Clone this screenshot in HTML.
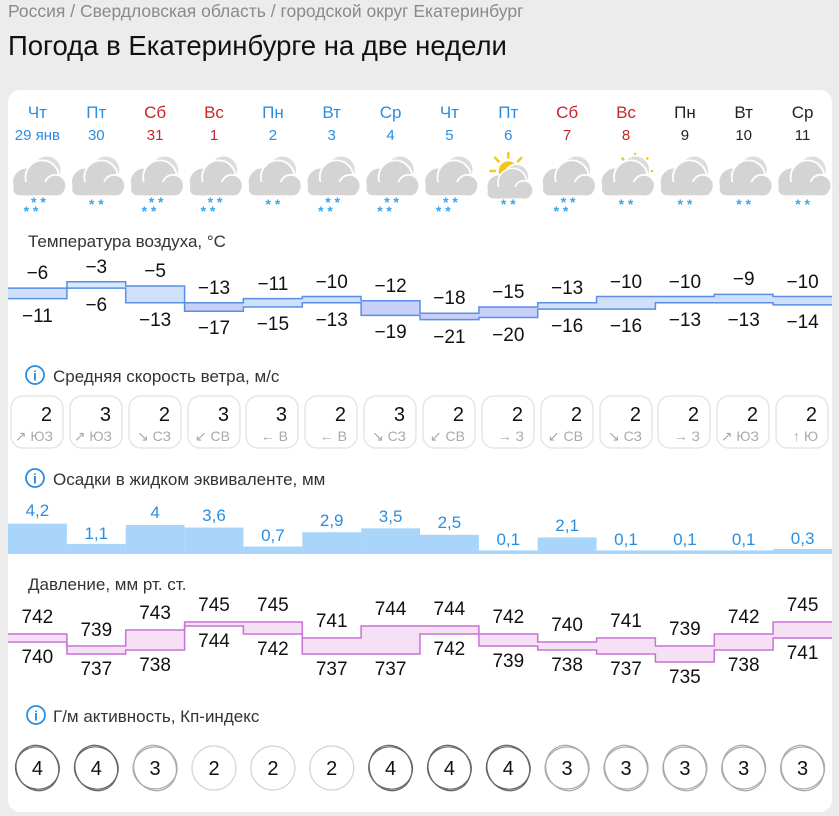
<!DOCTYPE html>
<html><head><meta charset="utf-8">
<style>
html,body{margin:0;padding:0;background:#ececec;}
body{width:839px;height:816px;overflow:hidden;position:relative;font-family:"Liberation Sans","DejaVu Sans",sans-serif;}
svg{position:absolute;left:0;top:0;}
</style></head><body>
<svg width="839" height="816" viewBox="0 0 839 816" font-family="Liberation Sans, DejaVu Sans, sans-serif">
<defs>
<symbol id="cl" viewBox="-30 -30 60 60" overflow="visible">
  <circle cx="8" cy="-10" r="12" fill="#dcdcdc" stroke="#fff" stroke-width="1.5"/>
  <circle cx="-9" cy="0" r="12" fill="#d4d4d4" stroke="#fff" stroke-width="1.5"/>
  <circle cx="4" cy="-4" r="14" fill="#d4d4d4" stroke="#fff" stroke-width="1.5"/>
  <circle cx="15" cy="3" r="9" fill="#d4d4d4" stroke="#fff" stroke-width="1.5"/>
  <rect x="-20" y="0" width="42" height="11" rx="5" fill="#d4d4d4"/>
</symbol>
<symbol id="sun" viewBox="-20 -20 40 40" overflow="visible">
  <g stroke="#f5c518" stroke-width="2" stroke-linecap="round">
    <line x1="0" y1="-15" x2="0" y2="-11"/><line x1="-11" y1="-11" x2="-8" y2="-8"/><line x1="11" y1="-11" x2="8" y2="-8"/>
    <line x1="-15" y1="0" x2="-11" y2="0"/><line x1="15" y1="0" x2="11" y2="0"/>
  </g>
  <circle cx="0" cy="0" r="8" fill="#f5c518"/>
</symbol>
</defs>
<text x="8" y="17" font-size="17.5" fill="#8a8a8a">Россия / Свердловская область / городской округ Екатеринбург</text>
<text x="8" y="55" font-size="27.5" fill="#111">Погода в Екатеринбурге на две недели</text>
<rect x="8" y="90" width="824" height="722" rx="12" fill="#fff"/>

<g font-size="17" text-anchor="middle">
<text x="37.4" y="118" fill="#2a8ee0">Чт</text><text x="96.3" y="118" fill="#2a8ee0">Пт</text><text x="155.1" y="118" fill="#c4262b">Сб</text><text x="214" y="118" fill="#c4262b">Вс</text><text x="272.9" y="118" fill="#2a8ee0">Пн</text><text x="331.7" y="118" fill="#2a8ee0">Вт</text><text x="390.6" y="118" fill="#2a8ee0">Ср</text><text x="449.4" y="118" fill="#2a8ee0">Чт</text><text x="508.3" y="118" fill="#2a8ee0">Пт</text><text x="567.1" y="118" fill="#c4262b">Сб</text><text x="626" y="118" fill="#c4262b">Вс</text><text x="684.9" y="118" fill="#222">Пн</text><text x="743.7" y="118" fill="#222">Вт</text><text x="802.6" y="118" fill="#222">Ср</text>
</g>
<g font-size="15" text-anchor="middle">
<text x="37.4" y="140" fill="#2a8ee0">29 янв</text><text x="96.3" y="140" fill="#2a8ee0">30</text><text x="155.1" y="140" fill="#c4262b">31</text><text x="214" y="140" fill="#c4262b">1</text><text x="272.9" y="140" fill="#2a8ee0">2</text><text x="331.7" y="140" fill="#2a8ee0">3</text><text x="390.6" y="140" fill="#2a8ee0">4</text><text x="449.4" y="140" fill="#2a8ee0">5</text><text x="508.3" y="140" fill="#2a8ee0">6</text><text x="567.1" y="140" fill="#c4262b">7</text><text x="626" y="140" fill="#c4262b">8</text><text x="684.9" y="140" fill="#222">9</text><text x="743.7" y="140" fill="#222">10</text><text x="802.6" y="140" fill="#222">11</text>
</g>

<!-- icons -->
<use href="#cl" x="1.4" y="146" width="72" height="72"/>
<use href="#cl" x="60.3" y="146" width="72" height="72"/>
<use href="#cl" x="119.1" y="146" width="72" height="72"/>
<use href="#cl" x="178" y="146" width="72" height="72"/>
<use href="#cl" x="236.9" y="146" width="72" height="72"/>
<use href="#cl" x="295.7" y="146" width="72" height="72"/>
<use href="#cl" x="354.6" y="146" width="72" height="72"/>
<use href="#cl" x="413.4" y="146" width="72" height="72"/>
<use href="#sun" x="484.3" y="147" width="48" height="48"/>
<use href="#cl" x="477.3" y="156" width="62" height="62"/>
<use href="#cl" x="531.1" y="146" width="72" height="72"/>
<use href="#sun" x="612" y="148" width="46" height="46"/>
<use href="#cl" x="590" y="146" width="72" height="72"/>
<use href="#cl" x="648.9" y="146" width="72" height="72"/>
<use href="#cl" x="707.7" y="146" width="72" height="72"/>
<use href="#cl" x="766.6" y="146" width="72" height="72"/>
<g font-size="14" fill="#3aa6ee" text-anchor="middle" font-weight="bold">
<text x="38.4" y="207">* *</text><text x="31" y="216">* *</text>
<text x="96.3" y="209">* *</text>
<text x="156.1" y="207">* *</text><text x="149" y="216">* *</text>
<text x="215" y="207">* *</text><text x="208" y="216">* *</text>
<text x="272.9" y="209">* *</text>
<text x="332.7" y="207">* *</text><text x="325.5" y="216">* *</text>
<text x="391.6" y="207">* *</text><text x="384.5" y="216">* *</text>
<text x="450.4" y="207">* *</text><text x="443.3" y="216">* *</text>
<text x="508.3" y="209">* *</text>
<text x="568.1" y="207">* *</text><text x="561" y="216">* *</text>
<text x="626" y="209">* *</text>
<text x="684.9" y="209">* *</text>
<text x="743.7" y="209">* *</text>
<text x="802.6" y="209">* *</text>
</g>

<!-- temperature -->
<text x="28" y="247" font-size="17" fill="#333">Температура воздуха, °C</text>
<g fill="#cfe0fb">
<rect x="8" y="288.1" width="58.9" height="10.5"/><rect x="66.9" y="281.8" width="58.8" height="6.3" fill="#d6ebfd"/><rect x="125.7" y="286" width="58.9" height="16.8"/><rect x="184.6" y="302.8" width="58.8" height="8.4" fill="#c8cff8"/><rect x="243.4" y="298.6" width="58.9" height="8.4"/><rect x="302.3" y="296.5" width="58.8" height="6.3"/><rect x="361.1" y="300.7" width="58.9" height="14.7" fill="#c8cff8"/><rect x="420" y="313.3" width="58.9" height="6.3" fill="#c8cff8"/><rect x="478.9" y="307" width="58.8" height="10.5" fill="#c8cff8"/><rect x="537.7" y="302.8" width="58.9" height="6.3"/><rect x="596.6" y="296.5" width="58.8" height="12.6"/><rect x="655.4" y="296.5" width="58.9" height="6.3"/><rect x="714.3" y="294.4" width="58.8" height="8.4"/><rect x="773.1" y="296.5" width="58.9" height="8.4"/>
</g>
<g fill="none" stroke="#5a8fe3" stroke-width="1.5">
<path d="M8,288.1 H66.9 V281.8 H125.7 V286 H184.6 V302.8 H243.4 V298.6 H302.3 V296.5 H361.1 V300.7 H420 V313.3 H478.9 V307 H537.7 V302.8 H596.6 V296.5 H714.3 V294.4 H773.1 V296.5 H832"/>
<path d="M8,298.6 H66.9 V288.1 H125.7 V302.8 H184.6 V311.2 H243.4 V307 H302.3 V302.8 H361.1 V315.4 H420 V319.6 H478.9 V317.5 H537.7 V309.1 H655.4 V302.8 H773.1 V304.9 H832"/>
</g>
<g font-size="19" fill="#111" text-anchor="middle">
<text x="37.4" y="279">−6</text><text x="96.3" y="273">−3</text><text x="155.1" y="277">−5</text><text x="214" y="294">−13</text><text x="272.9" y="290">−11</text><text x="331.7" y="288">−10</text><text x="390.6" y="292">−12</text><text x="449.4" y="304">−18</text><text x="508.3" y="298">−15</text><text x="567.1" y="294">−13</text><text x="626" y="288">−10</text><text x="684.9" y="288">−10</text><text x="743.7" y="285">−9</text><text x="802.6" y="288">−10</text>
<text x="37.4" y="322">−11</text><text x="96.3" y="311">−6</text><text x="155.1" y="326">−13</text><text x="214" y="334">−17</text><text x="272.9" y="330">−15</text><text x="331.7" y="326">−13</text><text x="390.6" y="338">−19</text><text x="449.4" y="343">−21</text><text x="508.3" y="341">−20</text><text x="567.1" y="332">−16</text><text x="626" y="332">−16</text><text x="684.9" y="326">−13</text><text x="743.7" y="326">−13</text><text x="802.6" y="328">−14</text>
</g>

<!-- wind -->
<circle cx="35" cy="375" r="9" fill="none" stroke="#2a8ee0" stroke-width="1.8"/>
<text x="35" y="380.5" font-size="14" font-weight="bold" fill="#2a8ee0" text-anchor="middle">i</text>
<text x="53" y="382" font-size="17" fill="#333">Средняя скорость ветра, м/с</text>
<g fill="none" stroke="#e6e6e6" stroke-width="1.5">
<rect x="11" y="396" width="52" height="52" rx="12"/><rect x="70" y="396" width="52" height="52" rx="12"/><rect x="129" y="396" width="52" height="52" rx="12"/><rect x="188" y="396" width="52" height="52" rx="12"/><rect x="246" y="396" width="52" height="52" rx="12"/><rect x="305" y="396" width="52" height="52" rx="12"/><rect x="364" y="396" width="52" height="52" rx="12"/><rect x="423" y="396" width="52" height="52" rx="12"/><rect x="482" y="396" width="52" height="52" rx="12"/><rect x="541" y="396" width="52" height="52" rx="12"/><rect x="600" y="396" width="52" height="52" rx="12"/><rect x="658" y="396" width="52" height="52" rx="12"/><rect x="717" y="396" width="52" height="52" rx="12"/><rect x="776" y="396" width="52" height="52" rx="12"/>
</g>
<g font-size="20" fill="#111" text-anchor="end">
<text x="52" y="421">2</text><text x="111" y="421">3</text><text x="170" y="421">2</text><text x="229" y="421">3</text><text x="287" y="421">3</text><text x="346" y="421">2</text><text x="405" y="421">3</text><text x="464" y="421">2</text><text x="523" y="421">2</text><text x="582" y="421">2</text><text x="641" y="421">2</text><text x="699" y="421">2</text><text x="758" y="421">2</text><text x="817" y="421">2</text>
</g>
<g font-size="14" fill="#aaa" text-anchor="end">
<text x="53" y="441">↗ ЮЗ</text><text x="112" y="441">↗ ЮЗ</text><text x="171" y="441">↘ СЗ</text><text x="230" y="441">↙ СВ</text><text x="288" y="441">← В</text><text x="347" y="441">← В</text><text x="406" y="441">↘ СЗ</text><text x="465" y="441">↙ СВ</text><text x="524" y="441">→ З</text><text x="583" y="441">↙ СВ</text><text x="642" y="441">↘ СЗ</text><text x="700" y="441">→ З</text><text x="759" y="441">↗ ЮЗ</text><text x="818" y="441">↑ Ю</text>
</g>

<!-- precipitation -->
<circle cx="35" cy="478" r="9" fill="none" stroke="#2a8ee0" stroke-width="1.8"/>
<text x="35" y="483.5" font-size="14" font-weight="bold" fill="#2a8ee0" text-anchor="middle">i</text>
<text x="53" y="485" font-size="17" fill="#333">Осадки в жидком эквиваленте, мм</text>
<g fill="#a9d5fa">
<rect x="8" y="523.7" width="58.9" height="30.3"/><rect x="66.9" y="543.9" width="58.8" height="10.1"/><rect x="125.7" y="525" width="58.9" height="29"/><rect x="184.6" y="527.6" width="58.8" height="26.4"/><rect x="243.4" y="546.5" width="58.9" height="7.5"/><rect x="302.3" y="532.2" width="58.8" height="21.8"/><rect x="361.1" y="528.3" width="58.9" height="25.7"/><rect x="420" y="534.8" width="58.9" height="19.2"/><rect x="478.9" y="550.4" width="58.8" height="3.6"/><rect x="537.7" y="537.4" width="58.9" height="16.6"/><rect x="596.6" y="550.4" width="58.8" height="3.6"/><rect x="655.4" y="550.4" width="58.9" height="3.6"/><rect x="714.3" y="550.4" width="58.8" height="3.6"/><rect x="773.1" y="549" width="58.9" height="5"/>
</g>
<g font-size="17" fill="#2a8ee0" text-anchor="middle">
<text x="37.4" y="516">4,2</text><text x="96.3" y="539">1,1</text><text x="155.1" y="518">4</text><text x="214" y="521">3,6</text><text x="272.9" y="541">0,7</text><text x="331.7" y="526">2,9</text><text x="390.6" y="522">3,5</text><text x="449.4" y="528">2,5</text><text x="508.3" y="545">0,1</text><text x="567.1" y="531">2,1</text><text x="626" y="545">0,1</text><text x="684.9" y="545">0,1</text><text x="743.7" y="545">0,1</text><text x="802.6" y="544">0,3</text>
</g>

<!-- pressure -->
<text x="28" y="590" font-size="17" fill="#333">Давление, мм рт. ст.</text>
<g fill="#f6e0f6">
<rect x="8" y="634" width="58.9" height="8"/><rect x="66.9" y="646" width="58.8" height="8"/><rect x="125.7" y="630" width="58.9" height="20"/><rect x="184.6" y="622" width="58.8" height="4"/><rect x="243.4" y="622" width="58.9" height="12"/><rect x="302.3" y="638" width="58.8" height="16"/><rect x="361.1" y="626" width="58.9" height="28"/><rect x="420" y="626" width="58.9" height="8"/><rect x="478.9" y="634" width="58.8" height="12"/><rect x="537.7" y="642" width="58.9" height="8"/><rect x="596.6" y="638" width="58.8" height="16"/><rect x="655.4" y="646" width="58.9" height="16"/><rect x="714.3" y="634" width="58.8" height="16"/><rect x="773.1" y="622" width="58.9" height="16"/>
</g>
<g fill="none" stroke="#c872d6" stroke-width="1.5">
<path d="M8,634 H66.9 V646 H125.7 V630 H184.6 V622 H302.3 V638 H361.1 V626 H478.9 V634 H537.7 V642 H596.6 V638 H655.4 V646 H714.3 V634 H773.1 V622 H832"/>
<path d="M8,642 H66.9 V654 H125.7 V650 H184.6 V626 H243.4 V634 H302.3 V654 H420 V634 H478.9 V646 H537.7 V650 H596.6 V654 H655.4 V662 H714.3 V650 H773.1 V638 H832"/>
</g>
<g font-size="19" fill="#111" text-anchor="middle">
<text x="37.4" y="623">742</text><text x="96.3" y="636">739</text><text x="155.1" y="619">743</text><text x="214" y="611">745</text><text x="272.9" y="611">745</text><text x="331.7" y="627">741</text><text x="390.6" y="615">744</text><text x="449.4" y="615">744</text><text x="508.3" y="623">742</text><text x="567.1" y="631">740</text><text x="626" y="627">741</text><text x="684.9" y="635">739</text><text x="743.7" y="623">742</text><text x="802.6" y="611">745</text>
<text x="37.4" y="663">740</text><text x="96.3" y="675">737</text><text x="155.1" y="671">738</text><text x="214" y="647">744</text><text x="272.9" y="655">742</text><text x="331.7" y="675">737</text><text x="390.6" y="675">737</text><text x="449.4" y="655">742</text><text x="508.3" y="667">739</text><text x="567.1" y="671">738</text><text x="626" y="675">737</text><text x="684.9" y="683">735</text><text x="743.7" y="671">738</text><text x="802.6" y="659">741</text>
</g>

<!-- Kp -->
<circle cx="36" cy="715" r="9" fill="none" stroke="#2a8ee0" stroke-width="1.8"/>
<text x="36" y="720.5" font-size="14" font-weight="bold" fill="#2a8ee0" text-anchor="middle">i</text>
<text x="53" y="722" font-size="17" fill="#333">Г/м активность, Кп-индекс</text>
<g fill="none" stroke-width="1.2">
<g stroke="#666"><ellipse cx="37.4" cy="768" rx="22" ry="21" transform="rotate(20 37.4 768)"/><ellipse cx="37.4" cy="768" rx="21" ry="23" transform="rotate(-25 37.4 768)"/><ellipse cx="96.3" cy="768" rx="22" ry="21" transform="rotate(20 96.3 768)"/><ellipse cx="96.3" cy="768" rx="21" ry="23" transform="rotate(-25 96.3 768)"/><ellipse cx="390.6" cy="768" rx="22" ry="21" transform="rotate(20 390.6 768)"/><ellipse cx="390.6" cy="768" rx="21" ry="23" transform="rotate(-25 390.6 768)"/><ellipse cx="449.4" cy="768" rx="22" ry="21" transform="rotate(20 449.4 768)"/><ellipse cx="449.4" cy="768" rx="21" ry="23" transform="rotate(-25 449.4 768)"/><ellipse cx="508.3" cy="768" rx="22" ry="21" transform="rotate(20 508.3 768)"/><ellipse cx="508.3" cy="768" rx="21" ry="23" transform="rotate(-25 508.3 768)"/></g>
<g stroke="#aaa"><ellipse cx="155.1" cy="768" rx="22" ry="21"/><ellipse cx="155.1" cy="768" rx="21" ry="23" transform="rotate(-25 155.1 768)"/><ellipse cx="567.1" cy="768" rx="22" ry="21"/><ellipse cx="567.1" cy="768" rx="21" ry="23" transform="rotate(-25 567.1 768)"/><ellipse cx="626" cy="768" rx="22" ry="21"/><ellipse cx="626" cy="768" rx="21" ry="23" transform="rotate(-25 626 768)"/><ellipse cx="684.9" cy="768" rx="22" ry="21"/><ellipse cx="684.9" cy="768" rx="21" ry="23" transform="rotate(-25 684.9 768)"/><ellipse cx="743.7" cy="768" rx="22" ry="21"/><ellipse cx="743.7" cy="768" rx="21" ry="23" transform="rotate(-25 743.7 768)"/><ellipse cx="802.6" cy="768" rx="22" ry="21"/><ellipse cx="802.6" cy="768" rx="21" ry="23" transform="rotate(-25 802.6 768)"/></g>
<g stroke="#d4d4d4"><ellipse cx="214" cy="768" rx="22" ry="22"/><ellipse cx="272.9" cy="768" rx="22" ry="22"/><ellipse cx="331.7" cy="768" rx="22" ry="22"/></g>
</g>
<g font-size="20" fill="#111" text-anchor="middle">
<text x="37.4" y="775">4</text><text x="96.3" y="775">4</text><text x="155.1" y="775">3</text><text x="214" y="775">2</text><text x="272.9" y="775">2</text><text x="331.7" y="775">2</text><text x="390.6" y="775">4</text><text x="449.4" y="775">4</text><text x="508.3" y="775">4</text><text x="567.1" y="775">3</text><text x="626" y="775">3</text><text x="684.9" y="775">3</text><text x="743.7" y="775">3</text><text x="802.6" y="775">3</text>
</g>
</svg>
</body></html>
